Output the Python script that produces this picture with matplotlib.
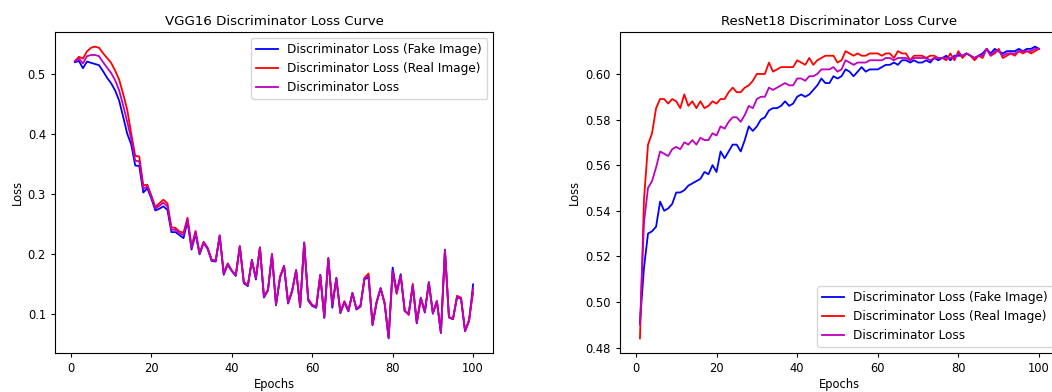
import numpy as np
import matplotlib
matplotlib.use("Agg")
import matplotlib.pyplot as plt

# epochs shared by both panels
epochs = np.arange(1, 101)

# VGG16 discriminator losses
vgg_fake = [0.519, 0.521, 0.509, 0.520, 0.518, 0.516, 0.514, 0.504, 0.493, 0.484,
            0.472, 0.455, 0.428, 0.400, 0.382, 0.347, 0.346, 0.302, 0.309, 0.292,
            0.272, 0.275, 0.279, 0.273, 0.236, 0.236, 0.231, 0.226, 0.254, 0.207,
            0.233, 0.199, 0.218, 0.208, 0.188, 0.187, 0.229, 0.165, 0.182, 0.171,
            0.163, 0.212, 0.151, 0.146, 0.190, 0.157, 0.210, 0.127, 0.139, 0.198,
            0.114, 0.160, 0.179, 0.117, 0.137, 0.173, 0.111, 0.219, 0.122, 0.113,
            0.110, 0.165, 0.093, 0.193, 0.110, 0.160, 0.101, 0.119, 0.104, 0.135,
            0.107, 0.112, 0.158, 0.160, 0.081, 0.118, 0.143, 0.117, 0.059, 0.177,
            0.137, 0.166, 0.104, 0.101, 0.146, 0.084, 0.126, 0.102, 0.153, 0.100,
            0.121, 0.068, 0.207, 0.094, 0.091, 0.127, 0.125, 0.071, 0.088, 0.149]
vgg_real = [0.521, 0.528, 0.525, 0.537, 0.543, 0.545, 0.543, 0.534, 0.526, 0.518,
            0.505, 0.490, 0.466, 0.440, 0.400, 0.363, 0.362, 0.314, 0.315, 0.297,
            0.278, 0.284, 0.290, 0.284, 0.244, 0.243, 0.237, 0.235, 0.260, 0.212,
            0.238, 0.201, 0.220, 0.210, 0.190, 0.189, 0.231, 0.168, 0.184, 0.172,
            0.165, 0.213, 0.153, 0.148, 0.188, 0.160, 0.211, 0.129, 0.140, 0.200,
            0.116, 0.162, 0.180, 0.119, 0.139, 0.172, 0.113, 0.218, 0.125, 0.115,
            0.112, 0.164, 0.095, 0.192, 0.118, 0.158, 0.103, 0.121, 0.106, 0.134,
            0.109, 0.114, 0.160, 0.167, 0.083, 0.120, 0.142, 0.119, 0.061, 0.168,
            0.133, 0.163, 0.106, 0.098, 0.150, 0.086, 0.127, 0.105, 0.151, 0.102,
            0.121, 0.069, 0.205, 0.095, 0.092, 0.130, 0.127, 0.072, 0.090, 0.135]
vgg_total = [0.520, 0.525, 0.517, 0.529, 0.531, 0.531, 0.529, 0.519, 0.510, 0.501,
             0.489, 0.472, 0.447, 0.420, 0.391, 0.355, 0.354, 0.308, 0.312, 0.295,
             0.275, 0.280, 0.285, 0.279, 0.240, 0.240, 0.234, 0.231, 0.257, 0.210,
             0.236, 0.200, 0.219, 0.209, 0.189, 0.188, 0.230, 0.167, 0.183, 0.172,
             0.164, 0.212, 0.152, 0.147, 0.189, 0.159, 0.210, 0.128, 0.140, 0.199,
             0.115, 0.161, 0.180, 0.118, 0.138, 0.172, 0.112, 0.218, 0.124, 0.114,
             0.111, 0.164, 0.094, 0.192, 0.114, 0.159, 0.102, 0.120, 0.105, 0.134,
             0.108, 0.113, 0.159, 0.163, 0.082, 0.119, 0.142, 0.118, 0.060, 0.172,
             0.135, 0.164, 0.105, 0.099, 0.148, 0.085, 0.126, 0.103, 0.152, 0.101,
             0.121, 0.068, 0.206, 0.094, 0.091, 0.128, 0.126, 0.071, 0.089, 0.142]

# ResNet18 discriminator losses
res_fake = [0.491, 0.515, 0.530, 0.531, 0.533, 0.544, 0.540, 0.541, 0.543, 0.548,
            0.548, 0.549, 0.551, 0.552, 0.553, 0.554, 0.557, 0.556, 0.560, 0.557,
            0.566, 0.563, 0.566, 0.569, 0.569, 0.566, 0.571, 0.577, 0.575, 0.577,
            0.580, 0.581, 0.584, 0.585, 0.585, 0.586, 0.588, 0.586, 0.587, 0.590,
            0.591, 0.590, 0.591, 0.593, 0.595, 0.598, 0.596, 0.596, 0.599, 0.598,
            0.599, 0.602, 0.601, 0.599, 0.601, 0.603, 0.601, 0.602, 0.602, 0.602,
            0.603, 0.604, 0.604, 0.605, 0.604, 0.606, 0.606, 0.605, 0.606, 0.605,
            0.605, 0.606, 0.605, 0.607, 0.606, 0.607, 0.608, 0.606, 0.608, 0.608,
            0.608, 0.609, 0.608, 0.607, 0.608, 0.609, 0.611, 0.609, 0.611, 0.610,
            0.609, 0.610, 0.610, 0.610, 0.611, 0.610, 0.611, 0.611, 0.612, 0.611]
res_real = [0.484, 0.545, 0.569, 0.574, 0.585, 0.589, 0.589, 0.587, 0.589, 0.588,
            0.585, 0.591, 0.586, 0.588, 0.585, 0.588, 0.585, 0.586, 0.588, 0.587,
            0.589, 0.589, 0.592, 0.594, 0.592, 0.592, 0.594, 0.595, 0.597, 0.600,
            0.600, 0.600, 0.605, 0.601, 0.602, 0.603, 0.603, 0.603, 0.603, 0.606,
            0.605, 0.604, 0.607, 0.604, 0.606, 0.607, 0.608, 0.608, 0.608, 0.605,
            0.606, 0.610, 0.609, 0.608, 0.609, 0.608, 0.608, 0.609, 0.609, 0.609,
            0.608, 0.609, 0.609, 0.607, 0.610, 0.609, 0.609, 0.606, 0.608, 0.608,
            0.608, 0.607, 0.608, 0.608, 0.607, 0.607, 0.606, 0.609, 0.606, 0.610,
            0.607, 0.609, 0.608, 0.606, 0.608, 0.607, 0.611, 0.608, 0.609, 0.611,
            0.607, 0.608, 0.609, 0.608, 0.610, 0.609, 0.610, 0.609, 0.610, 0.611]
res_total = [0.490, 0.535, 0.550, 0.553, 0.559, 0.566, 0.565, 0.564, 0.567, 0.568,
             0.567, 0.570, 0.569, 0.571, 0.569, 0.572, 0.571, 0.571, 0.574, 0.573,
             0.577, 0.576, 0.579, 0.581, 0.581, 0.579, 0.582, 0.586, 0.585, 0.589,
             0.590, 0.590, 0.594, 0.593, 0.594, 0.595, 0.596, 0.595, 0.595, 0.598,
             0.598, 0.597, 0.599, 0.599, 0.600, 0.602, 0.602, 0.602, 0.603, 0.601,
             0.602, 0.606, 0.605, 0.604, 0.605, 0.605, 0.605, 0.606, 0.606, 0.606,
             0.606, 0.607, 0.607, 0.606, 0.607, 0.607, 0.607, 0.606, 0.607, 0.607,
             0.607, 0.607, 0.606, 0.607, 0.607, 0.607, 0.607, 0.607, 0.607, 0.609,
             0.608, 0.609, 0.608, 0.607, 0.608, 0.608, 0.611, 0.608, 0.610, 0.610,
             0.608, 0.609, 0.609, 0.609, 0.610, 0.610, 0.610, 0.610, 0.611, 0.611]

labels = ['Discriminator Loss (Fake Image)', 'Discriminator Loss (Real Image)', 'Discriminator Loss']
colors = ['blue', 'red', 'm']

TICK_FS = 8.3
LEG_FS = 8.7
TITLE_FS = 9.6


def draw_panel(ax, series, title, legend_loc):
    for ys, lab, c in zip(series, labels, colors):
        ax.plot(epochs, ys, color=c, lw=1.3, label=lab)
    ax.set_title(title, fontsize=TITLE_FS, pad=5)
    ax.set_xlabel('Epochs', fontsize=TICK_FS, labelpad=2)
    ax.set_ylabel('Loss', fontsize=TICK_FS, labelpad=3)
    ax.set_xticks([0, 20, 40, 60, 80, 100])
    ax.tick_params(labelsize=TICK_FS, length=3)
    ax.legend(loc=legend_loc, fontsize=LEG_FS, handlelength=1.8)


fig = plt.figure(figsize=(10.52, 3.92), dpi=100)
ax1 = fig.add_axes([55 / 1052, 39 / 392, 438 / 1052, 321 / 392])
ax2 = fig.add_axes([620 / 1052, 39 / 392, 439 / 1052, 321 / 392])

draw_panel(ax1, [vgg_fake, vgg_real, vgg_total], 'VGG16 Discriminator Loss Curve', 'upper right')
ax1.set_yticks([0.1, 0.2, 0.3, 0.4, 0.5])

draw_panel(ax2, [res_fake, res_real, res_total], 'ResNet18 Discriminator Loss Curve', 'lower right')
ax2.set_yticks([0.48, 0.50, 0.52, 0.54, 0.56, 0.58, 0.60])

fig.savefig('out.png', dpi=100)
